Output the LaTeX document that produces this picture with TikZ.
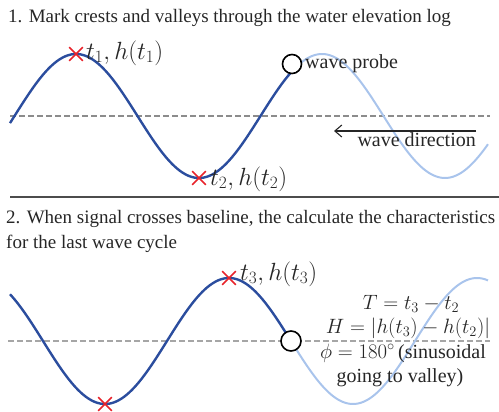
\documentclass[tikz,border=0pt]{standalone}
\usepackage{fontspec}
\setmainfont{Liberation Serif}
\usetikzlibrary{arrows.meta,shapes.misc}
\definecolor{wavedark}{HTML}{2B4D9E}
\definecolor{wavelight}{HTML}{A9C4EC}
\definecolor{markred}{HTML}{E8232B}
\definecolor{txt}{HTML}{262626}
\begin{document}
\begin{tikzpicture}[x=1pt,y=-1pt,
  title/.style={anchor=west,inner sep=0pt,font=\fontsize{19}{25}\selectfont,text=txt,align=left},
  lbl/.style={inner sep=0pt,font=\fontsize{20}{24}\selectfont,text=txt},
  mlbl/.style={anchor=west,inner sep=0pt,font=\fontsize{23}{27}\selectfont,text=txt},
  zeroline/.style={draw=gray!90,line width=1.1pt,dash pattern=on 6pt off 3pt},
  darkwave/.style={draw=wavedark,line width=2.4pt},
  lightwave/.style={draw=wavelight,line width=2pt},
  probe/.style={circle,draw=black,line width=1.6pt,fill=white,inner sep=0pt},
  xmark/.style={cross out,draw=markred,line width=1.6pt,minimum size=12pt,inner sep=0pt},
  sepline/.style={draw=black!70,line width=1.1pt}]
\useasboundingbox (0,0) rectangle (499,412);
% ---------- panel 1 ----------
\node[title] (title1) at (8,18) {1. Mark crests and valleys through the water elevation log};
\coordinate (b1s) at (10,116);
\coordinate (b1e) at (490,116);
\draw[zeroline] (b1s) -- (b1e);
\draw[lightwave] plot[domain=288:488,samples=120] (\x,{116-62*cos((\x-76)/246*360)});
\draw[darkwave] plot[domain=10:290,samples=160] (\x,{116-62*cos((\x-76)/246*360)});
\node[probe,minimum size=19pt] (probe1) at (292,64) {};
\node[lbl,anchor=west] (probelbl) at (305,64) {wave probe};
\node[xmark] (c1) at (76,54) {};
\node[xmark] (c2) at (199,178) {};
\node[mlbl] (l1) at (86,53) {$t_1,h(t_1)$};
\node[mlbl] (l2) at (210,179) {$t_2,h(t_2)$};
\node[lbl,anchor=north east] (wdir) at (476,132) {wave direction};
\coordinate (arrEnd) at (334,131);
\draw[line width=1.1pt,draw=txt,-{Straight Barb[length=7pt,width=12pt]}] (wdir.north east) ++(0,-1) -- (arrEnd);
\coordinate (s1) at (10,197);
\coordinate (s2) at (499,197);
\draw[sepline] (s1) -- (s2);
% ---------- panel 2 ----------
\node[title] (title2) at (6,231.5) {2. When signal crosses baseline, the calculate the characteristics\\for the last wave cycle};
\coordinate (b2s) at (8,341);
\coordinate (b2e) at (490,341);
\draw[zeroline,draw=gray!70] (b2s) -- (b2e);
\draw[lightwave] plot[domain=291:488,samples=120] (\x,{341+63*cos((\x-105)/248*360)});
\draw[darkwave] plot[domain=10:291,samples=160] (\x,{341+63*cos((\x-105)/248*360)});
\node[probe,minimum size=20pt] (probe2) at (291,341) {};
\node[xmark] (c3) at (105,404) {};
\node[xmark] (c4) at (229,278) {};
\node[mlbl] (l3) at (240,274) {$t_3,h(t_3)$};
\node[lbl,anchor=base] (eqT) at (411,309) {$T = t_3 - t_2$};
\node[lbl,anchor=base] (eqH) at (408,333) {$H = |h(t_3) - h(t_2)|$};
\node[lbl,anchor=base] (eqP) at (403,358) {$\phi = 180^\circ$\,(sinusoidal};
\node[lbl,anchor=base] (eqG) at (400,382) {going to valley)};
\end{tikzpicture}
\end{document}
